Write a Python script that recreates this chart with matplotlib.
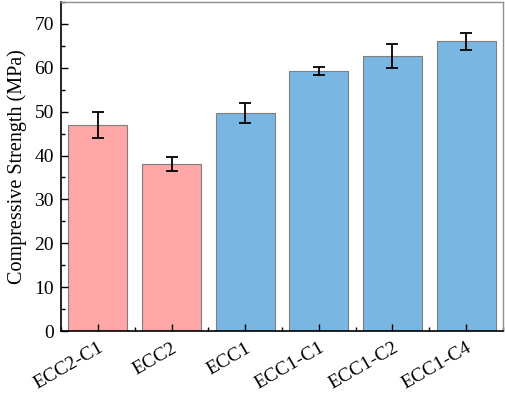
import matplotlib
matplotlib.use("Agg")
import matplotlib.pyplot as plt
from matplotlib.ticker import MultipleLocator, FixedLocator

categories = ["ECC2-C1", "ECC2", "ECC1", "ECC1-C1", "ECC1-C2", "ECC1-C4"]
strength = [47.0, 38.0, 49.7, 59.2, 62.7, 66.0]
strength_err = [3.0, 1.6, 2.2, 0.9, 2.8, 1.9]
bar_colors = ["#FFA6A6", "#FFA6A6", "#7AB6E2", "#7AB6E2", "#7AB6E2", "#7AB6E2"]

plt.rcParams["font.family"] = ["Liberation Serif", "DejaVu Serif"]

fig = plt.figure(figsize=(5.05, 3.93), dpi=100)
ax = fig.add_axes([61 / 505, 62 / 393, 442 / 505, 329 / 393])

x = list(range(len(categories)))
ax.bar(x, strength, width=0.8, color=bar_colors, edgecolor="#7f7f7f", linewidth=0.8,
       yerr=strength_err, capsize=4,
       error_kw=dict(elinewidth=1.3, capthick=1.3, ecolor="black"))

ax.set_xlim(-0.5, 5.5)
ax.set_ylim(0, 75)
ax.yaxis.set_major_locator(MultipleLocator(10))
ax.yaxis.set_minor_locator(MultipleLocator(5))
ax.set_xticks(x)
ax.set_xticklabels(categories, rotation=30, ha="right", rotation_mode="anchor")
ax.xaxis.set_minor_locator(FixedLocator([i + 0.5 for i in range(-1, 6)]))

ax.tick_params(axis="both", which="both", direction="in", labelsize=14)
ax.tick_params(axis="both", which="major", length=5, width=1)
ax.tick_params(axis="both", which="minor", length=3, width=1)
ax.tick_params(axis="x", pad=6)
ax.tick_params(axis="y", pad=5)

for side in ["left", "bottom"]:
    ax.spines[side].set_color("black")
    ax.spines[side].set_linewidth(1.2)
for side in ["top", "right"]:
    ax.spines[side].set_color("#909090")
    ax.spines[side].set_linewidth(1.0)

ax.set_ylabel("Compressive Strength (MPa)", fontsize=14.5, labelpad=5)

fig.savefig("out.png", dpi=100)
